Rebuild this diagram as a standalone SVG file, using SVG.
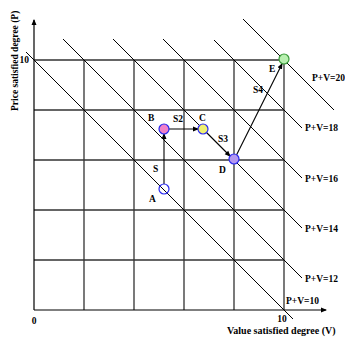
<svg xmlns="http://www.w3.org/2000/svg" width="345" height="339" viewBox="0 0 345 339">
<defs>
<marker id="ah" markerWidth="6" markerHeight="6" refX="5" refY="3" orient="auto" markerUnits="userSpaceOnUse"><path d="M0,0.5 L6,3 L0,5.5 z" fill="#000"/></marker>
<style>
.t{font-family:"Liberation Serif","Times New Roman",serif;font-weight:bold;font-size:9.5px;fill:#000}
.g{stroke:#333;stroke-width:1.3;fill:none}
.d{stroke:#000;stroke-width:1;fill:none}
.ax{stroke:#000;stroke-width:1.2;fill:none}
.c{stroke:#000;stroke-width:1.1;fill:none}
.p{stroke:#2a2af0;stroke-width:1.2}
</style>
</defs>
<rect width="345" height="339" fill="#fff"/>
<g id="grid">
<path class="g" d="M84,60V310M134,60V310M184,60V310M234,60V310M284,60V310M34,60H284M34,110H284M34,160H284M34,210H284M34,260H284"/>
</g>
<g id="axes">
<path class="ax" d="M34,310V20" marker-end="url(#ah)"/>
<path class="ax" d="M34,310H326" marker-end="url(#ah)"/>
<text class="t" x="29" y="63" text-anchor="end">10</text>
<text class="t" x="34" y="324" text-anchor="middle">0</text>
<text class="t" x="282" y="322" text-anchor="middle">10</text>
<text class="t" x="227" y="334" style="font-size:10px">Value satisfied degree (V)</text>
<text class="t" transform="translate(18,111) rotate(-90)">Price satisfied degree (P)</text>
</g>
<g id="isolines">
<path class="d" d="M26,52L293,319M63,39L302,278M113,39L302,228M163,39L302,178M214,40L302,128M243,19L334,110"/>
<text class="t" x="286" y="304">P+V=10</text>
<text class="t" x="305" y="282">P+V=12</text>
<text class="t" x="305" y="232">P+V=14</text>
<text class="t" x="305" y="182">P+V=16</text>
<text class="t" x="305" y="131">P+V=18</text>
<text class="t" x="312" y="81">P+V=20</text>
</g>
<g id="connectors">
<path class="c" d="M164,184V134" marker-end="url(#ah)"/>
<path class="c" d="M164,129H198" marker-end="url(#ah)"/>
<path class="c" d="M206,132L230,156" marker-end="url(#ah)"/>
<path class="c" d="M234,160L282,64" marker-end="url(#ah)"/>
<text class="t" x="153" y="172">S</text>
<text class="t" x="173" y="122">S2</text>
<text class="t" x="218" y="142">S3</text>
<text class="t" x="253" y="93">S4</text>
</g>
<g id="A"><circle class="p" cx="164" cy="189" r="5" fill="#fff" fill-opacity="0"/><text class="t" x="149" y="202">A</text></g>
<g id="B"><circle class="p" cx="164" cy="129" r="5" fill="#f080c8"/><text class="t" x="148" y="121">B</text></g>
<g id="C"><circle class="p" cx="203" cy="129" r="5" fill="#f0f070"/><text class="t" x="199" y="121">C</text></g>
<g id="D"><circle class="p" cx="234" cy="159" r="5" fill="#b498f0"/><text class="t" x="219" y="173">D</text></g>
<g id="E"><circle cx="284" cy="59" r="5" fill="#b8f0b0" stroke="#3a9a3a" stroke-width="1.2"/><text class="t" x="269" y="72">E</text></g>
</svg>
